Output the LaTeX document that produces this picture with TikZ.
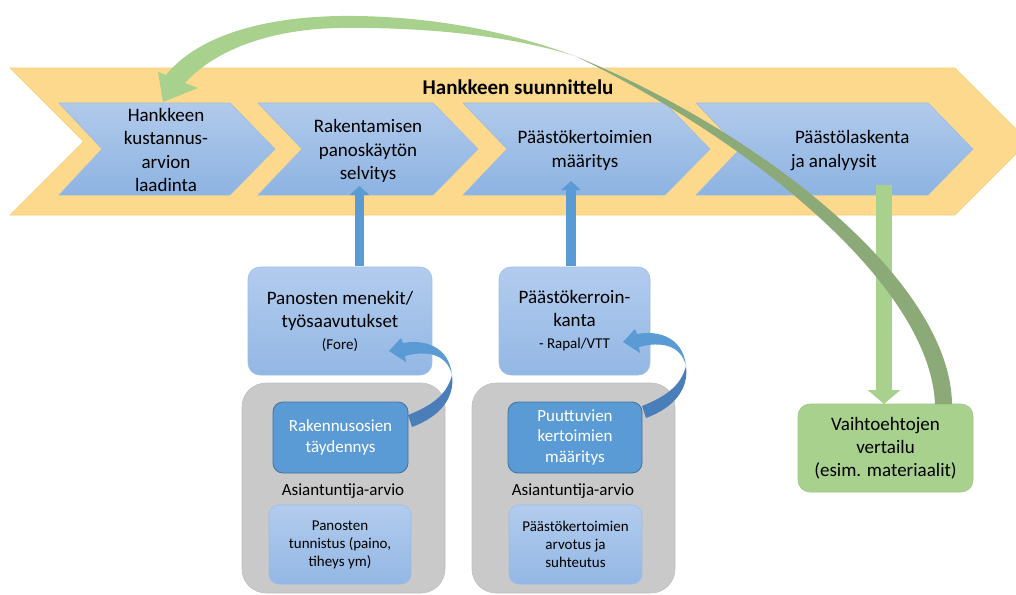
\documentclass[tikz,border=0pt]{standalone}
\usepackage{fontspec}
\setmainfont{Carlito}
\usetikzlibrary{arrows.meta}
\definecolor{orangefill}{HTML}{FCD98D}
\definecolor{orangeedge}{HTML}{F6CD72}
\definecolor{chevtop}{HTML}{B1CAEB}
\definecolor{chevbot}{HTML}{8DB3E2}
\definecolor{chevedge}{HTML}{9DBCE3}
\definecolor{darkblue}{HTML}{5B9BD5}
\definecolor{darkblueedge}{HTML}{41719C}
\definecolor{blueshade}{HTML}{4A7EBA}
\definecolor{lgreen}{HTML}{A9D18E}
\definecolor{dgreen}{HTML}{8BAA78}
\definecolor{greenedge}{HTML}{9CC583}
\definecolor{grayfill}{HTML}{C9C9C9}
\definecolor{grayedge}{HTML}{C0C0C0}
\definecolor{lbtop}{HTML}{B2CCEE}
\definecolor{lbbot}{HTML}{93B7E4}
\definecolor{lbedge}{HTML}{9DBDE6}
\begin{document}
\begin{tikzpicture}[x=1pt,y=-1pt,
  every node/.style={inner sep=0pt,outer sep=0pt},
  orangeband/.style={fill=orangefill,draw=orangeedge,line width=0.6pt},
  chevron/.style={top color=chevtop,bottom color=chevbot,draw=chevedge,line width=0.6pt},
  chevtext/.style={font=\fontsize{19}{23.5}\selectfont,align=center},
  titlefont/.style={font=\fontsize{21}{24}\selectfont\bfseries},
  lightbox/.style={rounded corners=12pt,top color=lbtop,bottom color=lbbot,draw=lbedge,line width=0.6pt,align=center},
  darkbox/.style={rounded corners=10pt,fill=darkblue,draw=darkblueedge,line width=0.8pt,align=center,text=white,font=\fontsize{17}{20.7}\selectfont},
  graybox/.style={rounded corners=24pt,fill=grayfill,draw=grayedge,line width=0.6pt},
  greenbox/.style={rounded corners=12pt,fill=lgreen,draw=greenedge,line width=0.6pt,align=center,font=\fontsize{19}{23}\selectfont},
  uparrow/.style={line width=9.5pt,draw=darkblue,-{Triangle[width=19pt,length=9pt]}},
  downarrow/.style={line width=16pt,draw=lgreen,-{Triangle[width=32pt,length=14pt]}},
  curvarrow/.pic={
    \fill[blueshade] (63,24) .. controls (66,48) and (50,66) .. (23,76) -- (19,64)
       .. controls (42,55) and (58,44) .. (63,24) -- cycle;
    \fill[darkblue] (0,0) -- (12,-13) -- (14,-8) .. controls (35,-12) and (60,-5) .. (63,24)
       .. controls (58,3) and (38,-1) .. (16,5) -- (17,11) -- cycle;
  }]
\useasboundingbox (0,0) rectangle (1016,594);
\clip (0,0) rectangle (1016,594);

% big orange band
\path[orangeband] (10,68) -- (955,68) -- (1028.5,141.5) -- (955,215) -- (10,215) -- (83.5,141.5) -- cycle;
\node[titlefont] (title) at (518,87) {Hankkeen suunnittelu};

% chevrons
\path[chevron] (59,103) -- (230,103) -- (275,149) -- (230,195) -- (59,195) -- (102,149) -- cycle;
\path[chevron] (258,103) -- (433,103) -- (478,149) -- (433,195) -- (258,195) -- (302,149) -- cycle;
\path[chevron] (463,103) -- (665,103) -- (710,149) -- (665,195) -- (463,195) -- (507,149) -- cycle;
\path[chevron] (696,103) -- (928,103) -- (973,149) -- (928,195) -- (696,195) -- (740,149) -- cycle;

\node[chevtext] (t1) at (166,150) {Hankkeen\\kustannus-\\arvion\\laadinta};
\node[chevtext] (t2) at (368,151) {Rakentamisen\\panoskäytön\\selvitys};
\node[chevtext] (t3) at (585,150.5) {Päästökertoimien\\määritys};
\node[chevtext,align=left,anchor=west] (t4) at (791,150.5) {\hspace*{4pt}Päästölaskenta\\ja analyysit};

% lower boxes
\node[lightbox,minimum width=184pt,minimum height=108pt,font=\fontsize{19}{23}\selectfont] (boxA) at (340,321)
  {Panosten menekit/\\työsaavutukset\\[-1pt]{\fontsize{15}{18}\selectfont (Fore)}};
\node[lightbox,minimum width=151pt,minimum height=108pt,font=\fontsize{19}{23}\selectfont] (boxB) at (574.5,321)
  {Päästökerroin-\\kanta\\[-1pt]{\fontsize{15}{18}\selectfont - Rapal/VTT}};

\node[graybox,minimum width=203pt,minimum height=210pt] (gray1) at (343.5,488) {};
\node[graybox,minimum width=203pt,minimum height=210pt] (gray2) at (573.5,488) {};

\node[darkbox,minimum width=135pt,minimum height=71pt] (dark1) at (340.5,437.5) {Rakennusosien\\täydennys};
\node[darkbox,minimum width=134pt,minimum height=71pt] (dark2) at (575,437.5) {Puuttuvien\\kertoimien\\määritys};

\node[font=\fontsize{17}{20}\selectfont] (asi1) at (343,491) {Asiantuntija-arvio};
\node[font=\fontsize{17}{20}\selectfont] (asi2) at (573,491) {Asiantuntija-arvio};

\node[lightbox,rounded corners=10pt,minimum width=142pt,minimum height=79pt,font=\fontsize{15}{18}\selectfont] (lt1) at (340,544.5)
  {Panosten\\tunnistus (paino,\\tiheys ym)};
\node[lightbox,rounded corners=10pt,minimum width=133pt,minimum height=79pt,font=\fontsize{15}{18}\selectfont] (lt2) at (575.5,544.5)
  {Päästökertoimien\\arvotus ja\\suhteutus};

\node[greenbox,minimum width=175pt,minimum height=88pt] (vaiht) at (885.5,448)
  {Vaihtoehtojen\\vertailu\\(esim. materiaalit)};

% straight block arrows
\coordinate (a1b) at (359.5,266);
\coordinate (a1t) at (359.5,186);
\coordinate (a2b) at (571,266);
\coordinate (a2t) at (571,181);
\draw[uparrow] (a1b) -- (a1t);
\draw[uparrow] (a2b) -- (a2t);
\coordinate (gtop) at (884,185);
\draw[downarrow] (gtop) -- (vaiht.north -| gtop);

% curved blue arrows
\pic at (389,351) {curvarrow};
\pic at (623,342) {curvarrow};

% green twisted curved arrow
\fill[lgreen] (163,102) -- (158,72) -- (166,75) .. controls (200,33) and (270,17) .. (340,16)
  .. controls (430,15) and (510,32) .. (575,56)
  .. controls (510,36) and (430,27) .. (340,28)
  .. controls (270,29) and (215,50) .. (185,83) -- (198,88) -- cycle;
\fill[dgreen] (575,56) .. controls (760,132) and (950,280) .. (952,404) -- (935,404)
  .. controls (930,285) and (750,140) .. (575,56) -- cycle;
\end{tikzpicture}
\end{document}
